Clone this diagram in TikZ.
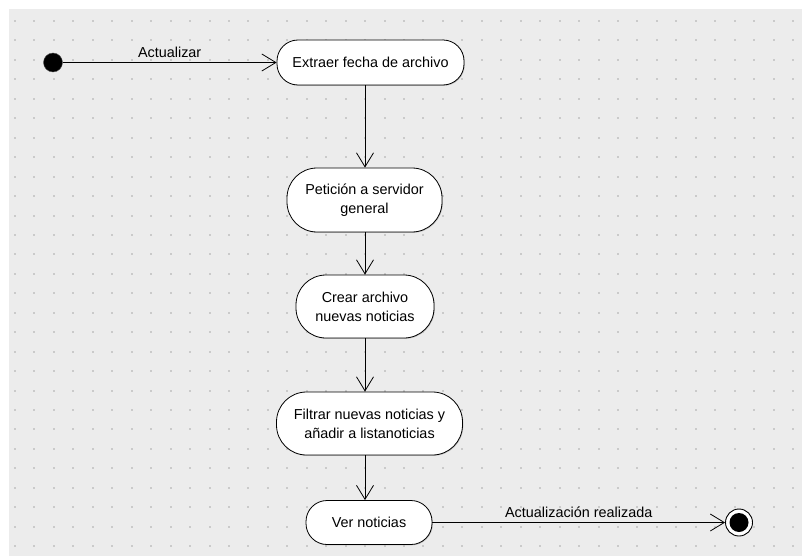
\documentclass[tikz,border=0pt]{standalone}
\usepackage{fontspec}
\setmainfont{Liberation Sans}
\usepackage{tikz}
\usetikzlibrary{arrows.meta,shadows}
\definecolor{fondo}{HTML}{ECECEC}
\definecolor{punto}{HTML}{CACACA}

\begin{document}
\begin{tikzpicture}[x=1pt,y=-1pt,
	every node/.style={font=\fontsize{14.4}{19}\selectfont},
	actividad/.style={draw,fill=white,line width=0.8pt,rounded corners=#1,align=center,
		drop shadow={shadow xshift=0.8pt,shadow yshift=-0.8pt,fill=black!35,opacity=0.6}},
	actividad/.default=21pt,
	flecha/.style={line width=0.8pt,-{Straight Barb[length=14pt,width=17pt,line width=0.8pt]}}]
	\useasboundingbox (0,0) rectangle (802,556);
	\fill[fondo] (9,9) rectangle (802,556);
	\foreach \i in {0,...,40}
		\foreach \j in {0,...,27}
			\fill[punto] ({14+19.45*\i},{22+19.45*\j}) rectangle +(2,-2);
	%
	\node[circle,fill=black,draw=black!70,minimum size=19pt,inner sep=0pt] (inicio) at (53,62.5) {};
	\node[actividad,minimum width=187pt,minimum height=45pt] (extraer) at (370.5,62.5) {Extraer fecha de archivo};
	\node[actividad=30pt,minimum width=155pt,minimum height=64pt] (peticion) at (364.5,200) {Petición a servidor\\general};
	\node[actividad=30pt,minimum width=138pt,minimum height=63pt] (crear) at (365,306.5) {Crear archivo\\nuevas noticias};
	\node[actividad=30pt,minimum width=186pt,minimum height=63pt] (filtrar) at (369.5,423.5) {Filtrar nuevas noticias y\\añadir a listanoticias};
	\node[actividad,minimum width=126pt,minimum height=44pt] (ver) at (369,522.5) {Ver noticias};
	\node[circle,draw,fill=white,line width=0.9pt,minimum size=27pt,inner sep=0pt] (fin) at (739,522.5) {};
	\fill (fin.center) circle (9.5pt);
	\coordinate (eje) at (365,0);
	%
	\draw [flecha] (inicio) -- node[above=1pt]{Actualizar} (extraer);
	\draw [flecha] (extraer.south -| eje) -- (peticion.north -| eje);
	\draw [flecha] (peticion.south -| eje) -- (crear.north -| eje);
	\draw [flecha] (crear.south -| eje) -- (filtrar.north -| eje);
	\draw [flecha] (filtrar.south -| eje) -- (ver.north -| eje);
	\draw [flecha] (ver) -- node[above=1pt]{Actualización realizada} (fin);
\end{tikzpicture}
\end{document}
